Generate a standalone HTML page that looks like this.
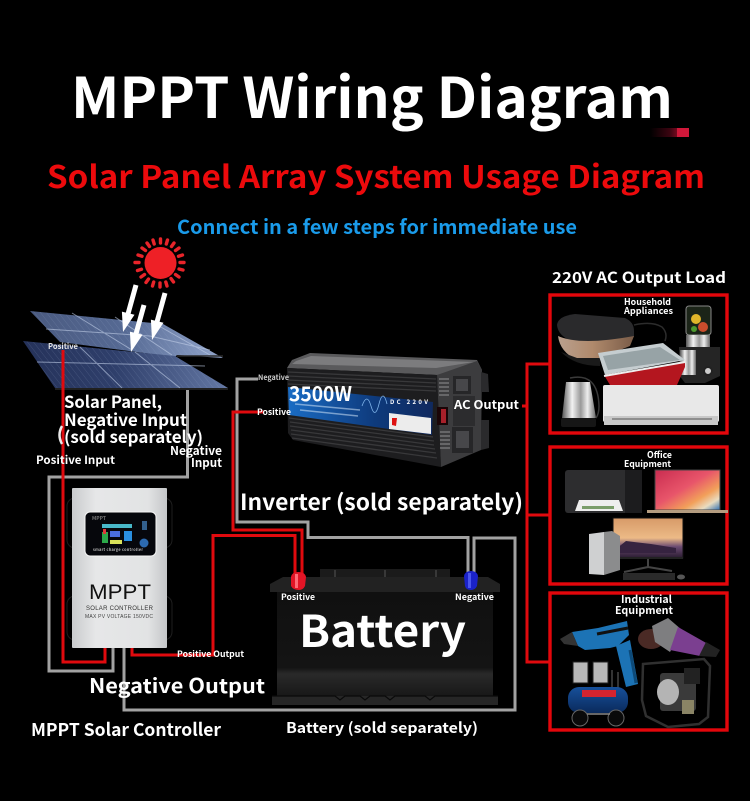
<!DOCTYPE html>
<html lang="en">
<head>
<meta charset="utf-8">
<title>MPPT Wiring Diagram</title>
<style>
html,body{margin:0;padding:0;background:#000;width:750px;height:801px;overflow:hidden}
svg{display:block}
text{font-family:"Noto Sans CJK SC","Liberation Sans",sans-serif;fill:#fff;font-weight:700}
.w{fill:none;stroke-width:3;stroke-linejoin:miter}
.r{stroke:#e00a0e}
.g{stroke:#a2a2a2}
.box{fill:none;stroke:#e3060b;stroke-width:3.4}
</style>
</head>
<body>
<svg xmlns="http://www.w3.org/2000/svg" width="750" height="801" viewBox="0 0 750 801">
<defs>
<linearGradient id="pv" x1="0" y1="0" x2="1" y2="0"><stop offset="0" stop-color="#4a5a80"/><stop offset=".5" stop-color="#566a94"/><stop offset="1" stop-color="#93a6cc"/></linearGradient>
<linearGradient id="pv2" x1="0" y1="0" x2="1" y2="0"><stop offset="0" stop-color="#25325a"/><stop offset=".45" stop-color="#2f3f6b"/><stop offset="1" stop-color="#6478a4"/></linearGradient>
<pattern id="cells" width="6" height="6" patternUnits="userSpaceOnUse" patternTransform="skewX(38)"><path d="M0 0V6" stroke="#a8b8da" stroke-opacity=".32" stroke-width=".7"/></pattern>
<linearGradient id="ctl" x1="0" y1="0" x2="1" y2="0"><stop offset="0" stop-color="#c9cbcd"/><stop offset=".25" stop-color="#e6e7e8"/><stop offset=".8" stop-color="#e2e3e4"/><stop offset="1" stop-color="#c4c6c8"/></linearGradient>
<linearGradient id="bat" x1="0" y1="0" x2="0" y2="1"><stop offset="0" stop-color="#101010"/><stop offset=".72" stop-color="#141414"/><stop offset=".78" stop-color="#2a2a2a"/><stop offset="1" stop-color="#171717"/></linearGradient>
<linearGradient id="blue" x1="0" y1="0" x2="1" y2="0"><stop offset="0" stop-color="#1a6cc4"/><stop offset=".6" stop-color="#0e3a7c"/><stop offset="1" stop-color="#10295e"/></linearGradient>
<linearGradient id="gold" x1="0" y1="0" x2="1" y2="0"><stop offset="0" stop-color="#b9a08e"/><stop offset=".45" stop-color="#b08a6c"/><stop offset="1" stop-color="#7a5c48"/></linearGradient>
<linearGradient id="steel" x1="0" y1="0" x2="1" y2="0"><stop offset="0" stop-color="#555"/><stop offset=".3" stop-color="#f2f2f2"/><stop offset=".55" stop-color="#999"/><stop offset=".75" stop-color="#eee"/><stop offset="1" stop-color="#666"/></linearGradient>
<linearGradient id="mac" x1="0" y1="0" x2="1" y2="1"><stop offset="0" stop-color="#c92c50"/><stop offset=".45" stop-color="#e8556a"/><stop offset=".7" stop-color="#f2a05a"/><stop offset=".85" stop-color="#e9dcc0"/><stop offset="1" stop-color="#2f6fb3"/></linearGradient>
<linearGradient id="scr" x1="0" y1="0" x2="0" y2="1"><stop offset="0" stop-color="#d79a68"/><stop offset=".5" stop-color="#ecba86"/><stop offset=".72" stop-color="#6a4a72"/><stop offset="1" stop-color="#2a1c30"/></linearGradient>
<linearGradient id="speck" x1="0" y1="0" x2="1" y2="0"><stop offset="0" stop-color="#000"/><stop offset=".7" stop-color="#3a0410"/><stop offset="1" stop-color="#7a0a20"/></linearGradient>
<linearGradient id="drum" x1="0" y1="0" x2="0" y2="1"><stop offset="0" stop-color="#17509a"/><stop offset="1" stop-color="#0a2a5c"/></linearGradient>
</defs>
<rect width="750" height="801" fill="#000"/>

<!-- titles -->
<text x="71" y="118" font-size="56" textLength="602" lengthAdjust="spacingAndGlyphs">MPPT Wiring Diagram</text>
<text x="47" y="188" font-size="31" textLength="658" lengthAdjust="spacingAndGlyphs" style="fill:#ec0a0c">Solar Panel Array System Usage Diagram</text>
<text x="177" y="234" font-size="19.500" textLength="400" lengthAdjust="spacingAndGlyphs" style="fill:#1a9bea">Connect in a few steps for immediate use</text>
<rect x="650" y="128" width="28" height="9" fill="url(#speck)"/>
<rect x="677" y="128" width="12" height="9" fill="#d0183a"/>

<!-- sun -->
<g>
<circle cx="160.500" cy="263" r="16" fill="#ee2026"/>
<g stroke="#e8242a" stroke-width="3.400" stroke-linecap="round" transform="translate(0,1)">
<path d="M160.500 238v4M167.500 239l-1.200 4M174 242l-2.500 3.500M179 247l-3.500 2.500M182.500 254l-4 1.200M184 261.500h-4M183 269l-4-1M179 276l-3.500-2.500M173.500 281l-2.500-3.500M167 285l-1.200-4M160 286v-4M152.500 285l1.200-4M146 281.500l2.500-3.500M141 276l3.500-2.500M137.500 269.500l4-1.200M135 261.500h4M138 254l4 1.200M142 247l3.500 2.500M147 242l2.500 3.500M153 239l1.200 4"/>
</g>
</g>

<!-- solar panels -->
<polygon points="30,311 163,324 223,358 177,355 175,357 60,342" fill="url(#pv)"/>
<polygon points="30,311 163,324 223,358 177,355 175,357 60,342" fill="url(#cells)"/>
<polygon points="23,341 175,356 228,388 55,388" fill="url(#pv2)"/>
<polygon points="23,341 175,356 228,388 55,388" fill="url(#cells)"/>
<g stroke="#c2cfe8" stroke-opacity=".6" stroke-width="1" fill="none">
<path d="M46 329L150 336L210 350M72 313L132 350M115 317L172 355M152 322L210 355M37 362L205 366M80 347L122 388M135 352L180 388"/>
</g>
<path d="M55 389H228M177 356H223" stroke="#2a2a2a" stroke-width="1.500"/>
<!-- light arrows -->
<g fill="#fff">
<polygon points="138.400,285.600 130.600,313.800 134.500,314.800 123,332 121.900,311.600 125.800,312.600 133.600,284.400"/>
<polygon transform="translate(8,20)" points="138.400,285.600 130.600,313.800 134.500,314.800 123,332 121.900,311.600 125.800,312.600 133.600,284.400"/>
<polygon transform="translate(29,8)" points="138.400,285.600 130.600,313.800 134.500,314.800 123,332 121.900,311.600 125.800,312.600 133.600,284.400"/>
</g>

<!-- wires -->
<path class="w g" d="M187.500 390V477H49V671H113V648"/>
<path class="w r" d="M63 350V662H105V648"/>
<path class="w g" d="M124 648V710H515V538H474V575"/>
<path class="w r" d="M132 648V655H213V535.500H295V575"/>
<path class="w g" d="M258 379H237V522H308V537.500H468V575"/>
<path class="w r" d="M264 412H233V530H302V575"/>
<path class="w r" d="M522 406H527M550 364H527V662H550M527 515H550"/>

<!-- inverter -->
<g>
<polygon points="292,360 310,353 477,360 482,370 437,375 287,368" fill="#5a5a5c"/>
<polygon points="296,361 311,356 474,362 436,368 292,364" fill="#7c7c7e"/>
<polygon points="287,368 437,375 441,467 293,440 288,433" fill="#1d1d1f"/>
<g stroke="#38383a" stroke-width="1.300">
<path d="M288 372L436 379M288 376L436 383M288 380L436 387M288 384L436 391M289 418L433 437M290 422L434 441M290 426L434 445M291 430L435 449M291 434L436 453M292 438L437 458"/>
</g>
<polygon points="288,387 433,402 432,435 289,415" fill="url(#blue)"/>
<polygon points="389,413 431,418 431,434 389,429" fill="#ececec"/>
<polygon points="392,418 397,418 396,426 392,425" fill="#d11"/>
<path d="M362 406q5-14 9 0t8-2 8 0" stroke="#7fb4ea" fill="none" stroke-width=".8"/>
<path d="M295 404L360 410M300 410L358 416" stroke="#cfe3f7" stroke-width="1.500" opacity=".55"/>
<text x="390" y="404" font-size="6" textLength="38">DC    220V</text>
<polygon points="437,375 477,361 482,370 481,450 441,467" fill="#3c3c3e"/>
<polygon points="481,372 488,374 489,392 481,392" fill="#2a2a2c"/>
<polygon points="481,420 489,420 489,448 481,450" fill="#2a2a2c"/>
<rect x="453" y="376" width="18" height="18" fill="#262628"/>
<rect x="452" y="427" width="21" height="26" fill="#262628"/>
<rect x="456" y="379" width="12" height="12" fill="#47474a"/>
<rect x="456" y="431" width="13" height="17" fill="#47474a"/>
<rect x="453" y="396" width="22" height="30" fill="#2c2c2e"/>
<rect x="437" y="407" width="11" height="18" fill="#1a0507"/>
<rect x="441" y="409" width="5" height="14" fill="#a8202a"/>
<g stroke="#808082" stroke-width="1.200"><path d="M439 379h10M439 383h10M439 387h10M439 391h10M439 395h10M440 432h10M440 436h10M440 440h10M440 444h10M440 448h10"/></g>
</g>

<!-- MPPT controller -->
<g>
<rect x="67" y="498" width="105" height="50" rx="8" fill="#000" stroke="#1e1e1e"/>
<rect x="67" y="596" width="105" height="44" rx="8" fill="#000" stroke="#1e1e1e"/>
<rect x="72" y="488" width="95" height="160" rx="1" fill="url(#ctl)"/>
<rect x="85" y="512" width="71" height="44" rx="5" fill="#06070c" stroke="#f5f5f5" stroke-width="1"/>
<rect x="102" y="524" width="30" height="4" fill="#48b8c9"/>
<rect x="102" y="532" width="6" height="11" fill="#2ba84a"/>
<rect x="110" y="531" width="10" height="6" fill="#4a6fe0"/>
<rect x="124" y="531" width="8" height="10" fill="#2a8fe0"/>
<rect x="110" y="540" width="12" height="4" fill="#d9e25a"/>
<rect x="103" y="529" width="3" height="5" fill="#e03a3a"/>
<rect x="142" y="521" width="5" height="9" fill="#33608e"/>
<circle cx="144" cy="543" r="4.500" fill="#2c6ab0"/>
<text x="92" y="520" font-size="5" style="fill:#777" textLength="14">MPPT</text>
<text x="93" y="551" font-size="3.800" style="fill:#bbb" textLength="50">smart charge controller</text>
<text x="89" y="599" font-size="21" style="font-family:'Liberation Sans',sans-serif;font-weight:400;fill:#111" textLength="62" lengthAdjust="spacingAndGlyphs">MPPT</text>
<text x="86" y="610" font-size="6" style="font-family:'Liberation Sans',sans-serif;font-weight:400;fill:#333" textLength="67">SOLAR CONTROLLER</text>
<text x="85" y="618" font-size="5" style="font-family:'Liberation Sans',sans-serif;font-weight:400;fill:#444" textLength="68">MAX PV VOLTAGE 150VDC</text>
</g>

<!-- battery -->
<g>
<rect x="320" y="569" width="130" height="16" fill="#1b1b1b"/>
<path d="M335 570v14M385 570v14M436 570v14" stroke="#555" stroke-width="1"/>
<polygon points="270,584 283,577 488,577 500,584 500,592 270,592" fill="#222"/>
<rect x="277" y="592" width="216" height="105" fill="url(#bat)"/>
<polygon points="272,696 498,696 498,705 272,705" fill="#262626"/>
<path d="M272 696H335l5 4 5-4H360l5 4 5-4H385l5 4 5-4H425l5 4 5-4H498" stroke="#0a0a0a" stroke-width="1.200" fill="none"/>
<path d="M291 577q1-5 7-5 7 0 8 5l-1 9q-2 4-6 4-6 0-8-4z" fill="#e31526"/>
<rect x="295" y="574" width="3" height="14" fill="#ff6a76"/>
<path d="M464 576q1-5 7-5 6 0 7 5l-1 10q-2 4-6 4-5 0-6-4z" fill="#1a22c9"/>
<rect x="468" y="573" width="3" height="15" fill="#4a56ee"/>
</g>

<!-- load boxes -->
<rect class="box" x="550" y="295" width="177" height="138"/>
<rect class="box" x="550" y="447" width="177" height="137"/>
<rect class="box" x="550" y="593" width="177" height="137"/>

<!-- box 1 appliances -->
<g>
<path d="M634 325q18-4 28 2 6 6 3 14" fill="none" stroke="#2c2c2c" stroke-width="1.500"/>
<path d="M557 325Q558 316 575 314L625 318Q634 322 634 331L634 337Q600 347 572 341Q558 336 557 325Z" fill="#2a2a2c"/>
<path d="M558 336Q580 346 634 336L630 346L600 358L577 360Q560 352 558 336Z" fill="url(#gold)"/>
<path d="M561 352Q575 366 600 366L600 358L577 358Z" fill="#1a1a1a"/>
<rect x="686" y="306" width="25" height="29" rx="3" fill="#1b2418" stroke="#888"/>
<circle cx="696" cy="319" r="5" fill="#e0b52a"/><circle cx="703" cy="327" r="5" fill="#c94d2c"/><circle cx="694" cy="329" r="3" fill="#4d9a2f"/>
<rect x="686" y="335" width="24" height="13" fill="url(#steel)"/>
<path d="M679 347h41v29l-15 7h-20l-6-8z" fill="#252525"/>
<rect x="680" y="350" width="16" height="25" fill="url(#steel)"/>
<circle cx="708" cy="371" r="4" fill="#ccc" stroke="#222" stroke-width="2"/>
<polygon points="598,353 663,343 685,360 605,375" fill="#c5cdd0"/>
<polygon points="603,356 660,347 680,360 608,370" fill="#97a3a6"/>
<polygon points="604,375 685,362 685,367 677,385 610,385" fill="#b4161f"/>
<path d="M604 376L685 362" stroke="#eee" stroke-width="2"/>
<polygon points="566,382 590,382 596,418 562,418" fill="url(#steel)"/>
<rect x="561" y="418" width="35" height="9" rx="2" fill="#161616"/>
<path d="M570 378q28-6 29 28q0 8-3 12" stroke="#3a3a3a" fill="none" stroke-width="1.500"/>
<rect x="603" y="385" width="116" height="37" rx="2" fill="#e8e8e8"/>
<rect x="604" y="416" width="114" height="9" fill="#c8c8c8"/>
<path d="M612 419H712" stroke="#555" stroke-width="1"/>
</g>

<!-- box 2 appliances -->
<g>
<rect x="565" y="470" width="77" height="43" rx="3" fill="#2d2d2f"/>
<rect x="625" y="470" width="17" height="43" fill="#1c1c1e"/>
<polygon points="579,500 619,500 623,511 575,511" fill="#eee"/>
<rect x="582" y="506" width="32" height="3" fill="#7a9d6a"/>
<rect x="655" y="470" width="65" height="40" fill="url(#mac)" stroke="#444"/>
<rect x="647" y="510" width="81" height="3" fill="#b49c80"/>
<rect x="613" y="518" width="70" height="40" fill="url(#scr)" stroke="#111"/>
<path d="M616 549l10-8 25 3 25 4v5H616z" fill="#362340"/>
<rect x="613" y="557" width="70" height="2" fill="#222"/>
<path d="M648 559v8l-24 5M648 567l24 4" stroke="#444" stroke-width="2" fill="none"/>
<rect x="623" y="573" width="52" height="7" fill="#2a2a2a"/>
<ellipse cx="681" cy="577" rx="4" ry="2.500" fill="#555"/>
<polygon points="589,534 604,532 604,575 589,574" fill="#cfd0d1"/>
<polygon points="604,532 612,531 620,536 620,570 604,575" fill="#8b8c8d"/>
</g>

<!-- box 3 appliances -->
<g>
<polygon points="572,632 598,628 627,621 629,635 618,646 610,648 585,650 578,646" fill="#1c73b5"/>
<polygon points="560,639 572,632 578,646 564,644" fill="#333"/>
<polygon points="616,646 630,640 638,684 626,687" fill="#1c73b5"/>
<path d="M597 634L628 628" stroke="#111" stroke-width="3"/>
<path d="M630 650l6 33" stroke="#0d4a78" stroke-width="3"/>
<rect x="573" y="662" width="15" height="21" fill="#b8b8b8" stroke="#222"/>
<rect x="593" y="662" width="15" height="21" fill="#b8b8b8" stroke="#222"/>
<path d="M612 670v20M618 672v18" stroke="#444" stroke-width="1.500"/>
<rect x="568" y="687" width="60" height="26" rx="11" fill="url(#drum)"/>
<rect x="582" y="690" width="34" height="7" fill="#d42430"/>
<circle cx="580" cy="718" r="8" fill="#0a0a0a" stroke="#666"/>
<circle cx="616" cy="718" r="8" fill="#0a0a0a" stroke="#666"/>
<path d="M587 714H610" stroke="#888" stroke-width="1.500"/>
<ellipse cx="651" cy="639" rx="13" ry="10" fill="#4a2a25"/>
<polygon points="652,626 668,618 682,630 670,652 655,642" fill="#7e7e80"/>
<polygon points="678,627 708,644 700,656 670,650" fill="#7b3f90"/>
<polygon points="706,642 720,650 716,657 699,656" fill="#222"/>
<path d="M643 664L704 659L710 666L708 717L699 724L668 727L646 716L642 700Z" fill="none" stroke="#303030" stroke-width="2.500"/>
<rect x="660" y="673" width="36" height="38" rx="3" fill="#3a3a3a"/>
<ellipse cx="668" cy="692" rx="11" ry="13" fill="#b4b4b4"/>
<rect x="684" y="668" width="16" height="16" fill="#222"/>
<rect x="682" y="700" width="12" height="14" fill="#8a8465"/>
</g>

<!-- labels -->
<text x="64" y="408" font-size="16.500" textLength="98" lengthAdjust="spacingAndGlyphs">Solar Panel,</text>
<text x="64" y="426" font-size="16.500" textLength="123" lengthAdjust="spacingAndGlyphs">Negative Input</text>
<text x="64" y="443" font-size="16.500" textLength="139" lengthAdjust="spacingAndGlyphs">(sold separately)</text>
<path d="M62 426q-5 9 0 18" stroke="#e8e8e8" stroke-width="2.500" fill="none"/>
<text x="36" y="464" font-size="11" textLength="79" lengthAdjust="spacingAndGlyphs">Positive Input</text>
<text x="170" y="455" font-size="12" textLength="52" lengthAdjust="spacingAndGlyphs">Negative</text>
<text x="191" y="467" font-size="12" textLength="31" lengthAdjust="spacingAndGlyphs">Input</text>
<text x="48" y="349" font-size="8" textLength="30" lengthAdjust="spacingAndGlyphs" style="fill:#e8e8e8">Positive</text>
<text x="258" y="380" font-size="7.500" textLength="31" lengthAdjust="spacingAndGlyphs" style="fill:#ccc">Negative</text>
<text x="257" y="415" font-size="8.500" textLength="34" lengthAdjust="spacingAndGlyphs">Positive</text>
<text x="289" y="401" font-size="20" textLength="63" lengthAdjust="spacingAndGlyphs">3500W</text>
<text x="454" y="409" font-size="12" textLength="65" lengthAdjust="spacingAndGlyphs">AC Output</text>
<text x="240" y="510" font-size="22" textLength="283" lengthAdjust="spacingAndGlyphs">Inverter (sold separately)</text>
<text x="177" y="657" font-size="8.500" textLength="67" lengthAdjust="spacingAndGlyphs">Positive Output</text>
<text x="89" y="693" font-size="20" textLength="176" lengthAdjust="spacingAndGlyphs">Negative Output</text>
<text x="31" y="736" font-size="17.500" textLength="190" lengthAdjust="spacingAndGlyphs">MPPT Solar Controller</text>
<text x="286" y="733" font-size="14.500" textLength="192" lengthAdjust="spacingAndGlyphs">Battery (sold separately)</text>
<text x="281" y="600" font-size="8.500" textLength="34" lengthAdjust="spacingAndGlyphs">Positive</text>
<text x="455" y="600" font-size="8.500" textLength="39" lengthAdjust="spacingAndGlyphs">Negative</text>
<text x="299" y="647" font-size="44" textLength="167" lengthAdjust="spacingAndGlyphs">Battery</text>
<text x="552" y="283" font-size="15.500" textLength="174" lengthAdjust="spacingAndGlyphs">220V AC Output Load</text>
<text x="624" y="305" font-size="9" textLength="47" lengthAdjust="spacingAndGlyphs">Household</text>
<text x="624" y="314" font-size="9" textLength="49" lengthAdjust="spacingAndGlyphs">Appliances</text>
<text x="647" y="458" font-size="9" textLength="25" lengthAdjust="spacingAndGlyphs">Office</text>
<text x="624" y="467" font-size="9" textLength="47" lengthAdjust="spacingAndGlyphs">Equipment</text>
<text x="621" y="603" font-size="10.500" textLength="51" lengthAdjust="spacingAndGlyphs">Industrial</text>
<text x="615" y="614" font-size="10.500" textLength="58" lengthAdjust="spacingAndGlyphs">Equipment</text>
</svg>
</body>
</html>
